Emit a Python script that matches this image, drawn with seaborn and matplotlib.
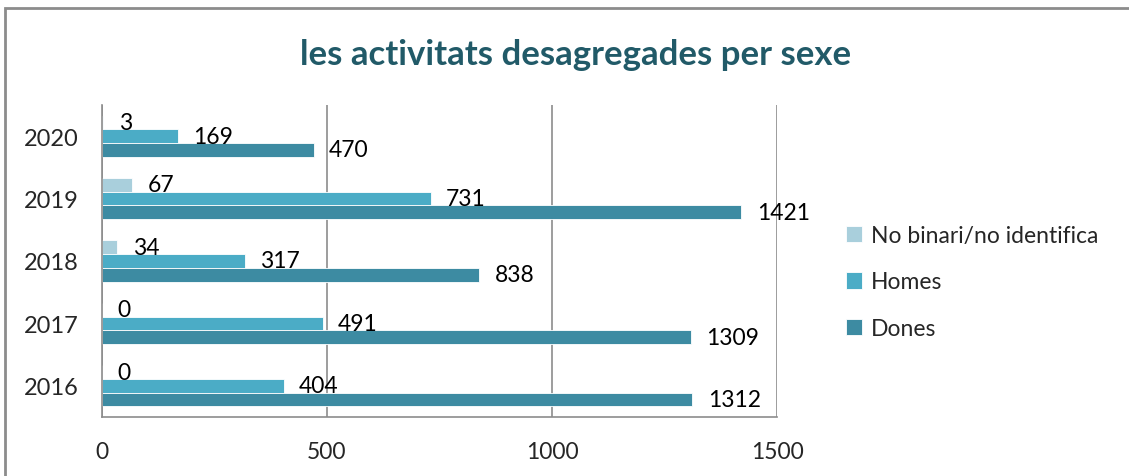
import matplotlib
matplotlib.use("Agg")
import numpy as np
import pandas as pd
import matplotlib.pyplot as plt
import seaborn as sns
from matplotlib.patches import Rectangle

# Data
years = ["2020", "2019", "2018", "2017", "2016"]
no_binari = [3, 67, 34, 0, 0]
homes = [169, 731, 317, 491, 404]
dones = [470, 1421, 838, 1309, 1312]
series_names = ["No binari/no identifica", "Homes", "Dones"]
colors = ["#a9cfdc", "#4bacc6", "#3d8ba2"]

df = pd.DataFrame({
    "Any": years * 3,
    "Serie": [series_names[0]] * 5 + [series_names[1]] * 5 + [series_names[2]] * 5,
    "Valor": no_binari + homes + dones,
})

sns.set_style("white")
plt.rcParams["font.family"] = ["Lato", "DejaVu Sans"]

fig = plt.figure(figsize=(11.29, 4.77), dpi=100)
ax = fig.add_axes([102 / 1129, 1 - 418 / 477, 675 / 1129, 312 / 477])

sns.barplot(
    data=df, x="Valor", y="Any", hue="Serie",
    order=years, hue_order=series_names,
    palette=colors, saturation=1, orient="h", width=0.66,
    edgecolor="white", linewidth=0.6,
    legend=True, ax=ax,
)

for cont in ax.containers:
    ax.bar_label(cont, fmt="%d", padding=11, fontsize=16.5, color="black")

ax.set_xlim(0, 1500)
ax.set_xticks([0, 500, 1000, 1500])
ax.set_xticklabels(["0", "500", "1000", "1500"])
ax.tick_params(axis="x", which="both", labelsize=16.5, pad=17, length=0, bottom=False)
ax.tick_params(axis="y", which="both", labelsize=17, pad=17, length=0, left=False)
ax.set_xlabel("")
ax.set_ylabel("")
ax.grid(axis="x", color="#8c8c8c", linewidth=1.2)
ax.set_axisbelow(True)
for s in ["top", "right"]:
    ax.spines[s].set_visible(False)
for s in ["left", "bottom"]:
    ax.spines[s].set_color("#8c8c8c")
    ax.spines[s].set_linewidth(1.2)

# legend outside on the right
handles, labels = ax.get_legend_handles_labels()
ax.legend_.remove()
fig.legend(
    handles, labels, loc="center left",
    bbox_to_anchor=(846 / 1129, 1 - 283 / 477),
    frameon=False, fontsize=16.5, handlelength=0.7, handleheight=0.7,
    handletextpad=0.4, labelspacing=1.13, borderpad=0, borderaxespad=0,
)

fig.suptitle("les activitats desagregades per sexe", x=0.51, y=1 - 55 / 477,
             va="center", fontsize=25, fontweight="bold", color="#215a68")

# outer frame (left and top borders visible)
fig.patches.append(Rectangle((5 / 1129, -0.2), 1.2, 1.2 - 9 / 477,
                             transform=fig.transFigure, fill=False,
                             edgecolor="#8c8c8c", linewidth=2))

fig.savefig("out.png", dpi=100)
